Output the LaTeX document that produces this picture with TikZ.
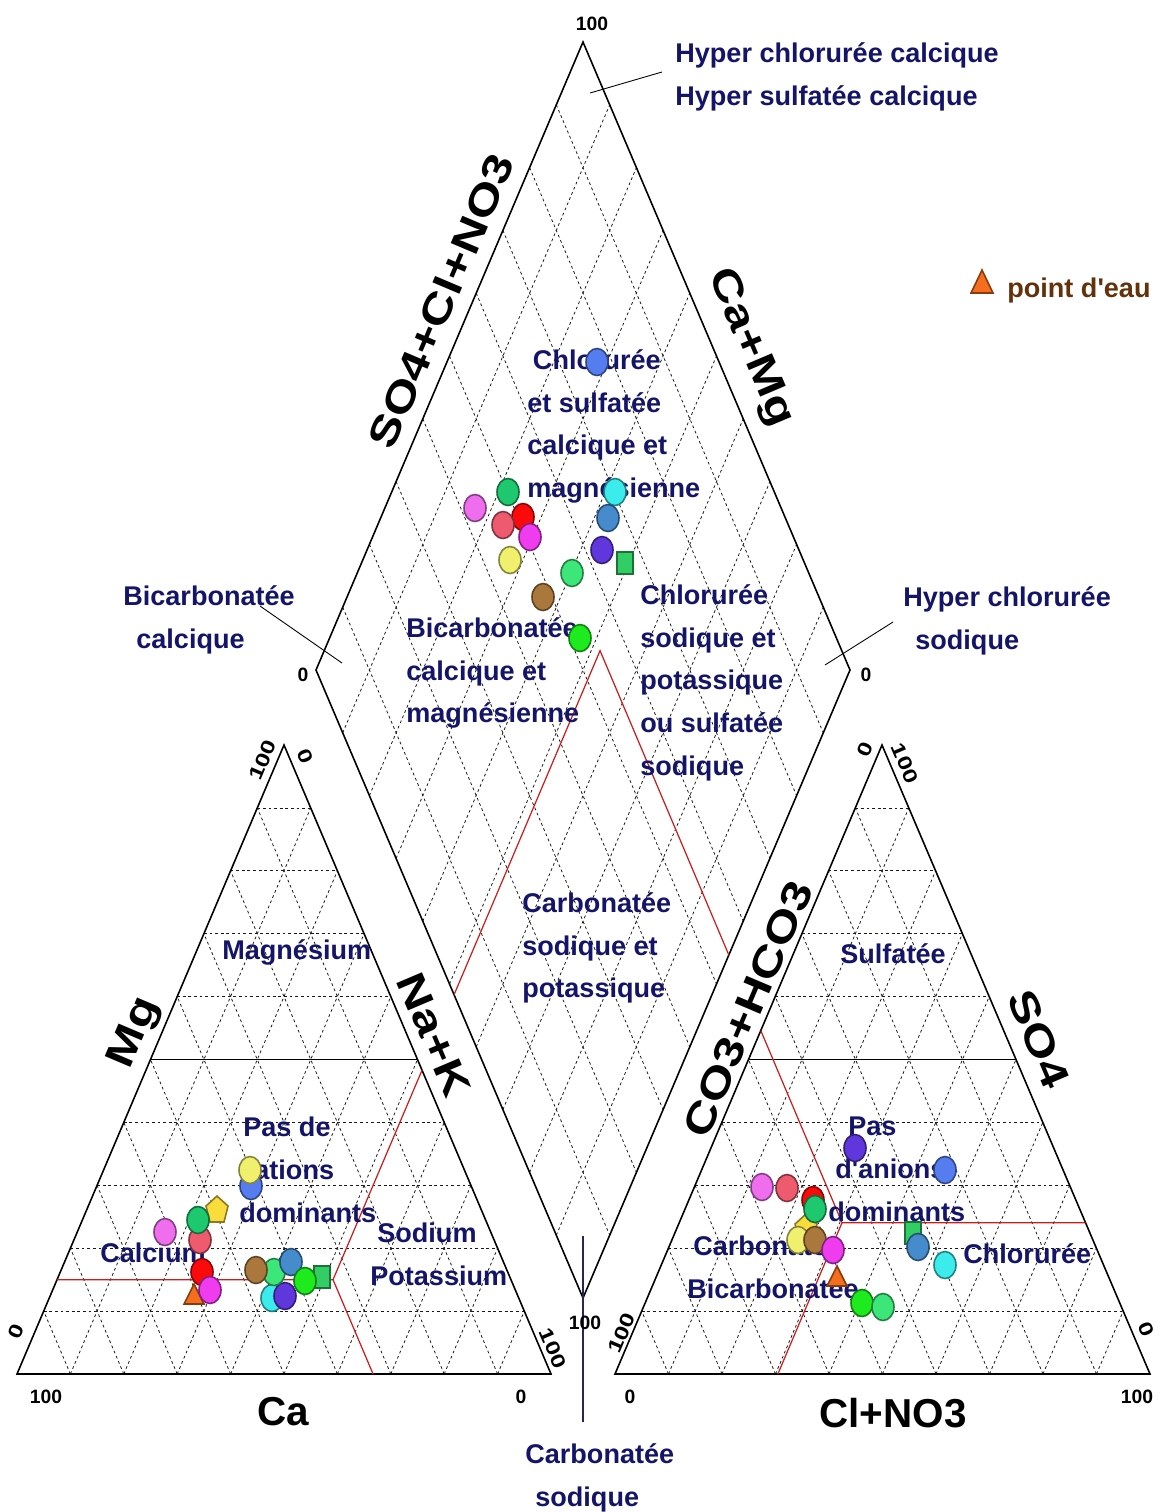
\documentclass[tikz,border=0pt]{standalone}
\usepackage{fontspec}
\setmainfont{Liberation Sans}
\usetikzlibrary{calc}

\definecolor{zonenavy}{RGB}{20,20,105}
\definecolor{legendbrown}{RGB}{100,50,10}
\definecolor{classred}{RGB}{200,30,30}
\definecolor{cviolet}{RGB}{238,110,238}
\definecolor{csalmon}{RGB}{238,90,110}
\definecolor{cred}{RGB}{250,10,10}
\definecolor{cmagenta}{RGB}{238,60,238}
\definecolor{cgreen}{RGB}{30,200,110}
\definecolor{cyellow}{RGB}{240,240,110}
\definecolor{cbrown}{RGB}{170,120,60}
\definecolor{clight}{RGB}{60,230,120}
\definecolor{clime}{RGB}{30,235,30}
\definecolor{csquare}{RGB}{50,205,100}
\definecolor{csteel}{RGB}{70,140,205}
\definecolor{ccyan}{RGB}{60,235,235}
\definecolor{cpurple}{RGB}{95,55,220}
\definecolor{croyal}{RGB}{85,125,240}
\definecolor{corange}{RGB}{245,110,30}
\definecolor{cpenta}{RGB}{250,220,60}

\newcommand\zonefont{\fontsize{15.4}{24.4}\selectfont\bfseries}
\newcommand\axfont{\fontsize{23}{27}\selectfont\bfseries}
\newcommand\tickfont{\fontsize{11}{13}\selectfont\bfseries}

\begin{document}
\begin{tikzpicture}[x=0.02cm, y=-0.02cm,
  gridline/.style={black!90, line width=0.45pt, dash pattern=on 1.6pt off 1.6pt},
  frame/.style={black, line width=0.9pt},
  half/.style={black, line width=0.6pt},
  classline/.style={classred, line width=0.7pt},
  zone/.style={text=zonenavy, font=\zonefont, align=left, anchor=north west, inner sep=0pt},
  axlabel/.style={font=\axfont, inner sep=0pt},
  ticklabel/.style={font=\tickfont, inner sep=0pt},
  leader/.style={black, line width=0.5pt},
  mk/.style={fill=#1, draw=#1!55!black, line width=0.9pt},
  dotr/.style={x radius=11, y radius=13.5}]
\useasboundingbox (0,0) rectangle (1163,1512);

% corners: cations, anions, diamond
\coordinate (A1) at (17,1374);
\coordinate (B1) at (551,1374);
\coordinate (C1) at (284,745);
\coordinate (A2) at (615,1374);
\coordinate (B2) at (1150,1374);
\coordinate (C2) at (882,745);
\coordinate (T) at (583,42);
\coordinate (L) at (316,670);
\coordinate (R) at (850,670);
\coordinate (Bt) at (583,1298);

% dashed grids
\foreach \a/\b/\c in {A1/B1/C1, A2/B2/C2}{
  \foreach \i in {1,...,9}{
    \draw[gridline] ($(\a)!\i/10!(\c)$) -- ($(\b)!\i/10!(\c)$);
    \draw[gridline] ($(\a)!\i/10!(\b)$) -- ($(\a)!\i/10!(\c)$);
    \draw[gridline] ($(\b)!\i/10!(\a)$) -- ($(\b)!\i/10!(\c)$);
  }
}
\foreach \i in {1,...,9}{
  \draw[gridline] ($(L)!\i/10!(T)$) -- ($(Bt)!\i/10!(R)$);
  \draw[gridline] ($(L)!\i/10!(Bt)$) -- ($(T)!\i/10!(R)$);
}

% frames
\draw[frame] (A1) -- (B1) -- (C1) -- cycle;
\draw[frame] (A2) -- (B2) -- (C2) -- cycle;
\draw[frame] (T) -- (R) -- (Bt) -- (L) -- cycle;
\draw[half] ($(A1)!.5!(C1)$) -- ($(B1)!.5!(C1)$);
\draw[half] ($(A2)!.5!(C2)$) -- ($(B2)!.5!(C2)$);

% red limits
\coordinate (rl1) at ($(A1)!.15!(C1)$);
\coordinate (P) at ($(rl1)+(276,0)$);
\coordinate (Pd) at ($(P)+(267,629)$);
\coordinate (Ap) at ($(P)+(267,-629)$);
\coordinate (Q) at ($(Ap)+(242,572)$);
\coordinate (Qd) at ($(Q)+(-267,629)$);
\coordinate (Qr) at ($(Q)+(300,0)$);
\draw[classline] (rl1) -- (P) -- (intersection of P--Pd and A1--B1);
\draw[classline] (P) -- (intersection of P--Ap and B1--C1);
\draw[classline] (intersection of P--Ap and L--Bt) -- (Ap) -- (intersection of Ap--Q and R--Bt);
\draw[classline] (intersection of Ap--Q and A2--C2) -- (Q) -- (intersection of Q--Qr and B2--C2);
\draw[classline] (Q) -- (intersection of Q--Qd and A2--B2);

% zone names
\node[zone] (HyperCa) at (675,42) {Hyper chlorurée calcique\\Hyper sulfatée calcique};
\node[zone] (ChloSulf) at (527,349) {\hspace*{8\pgflinewidth}Chlorurée\\et sulfatée\\calcique et\\magnésienne};
\node[zone] (BicaCa) at (123,585) {Bicarbonatée\\\hspace*{0.26cm}calcique};
\node[zone] (BicaCaMg) at (406,617) {Bicarbonatée\\calcique et\\magnésienne};
\node[zone] (ChloNa) at (640,584) {Chlorurée\\sodique et\\potassique\\ou sulfatée\\sodique};
\node[zone] (HyperNa) at (903,586) {Hyper chlorurée\\\hspace*{0.24cm}sodique};
\node[zone] (CarbNa) at (522,892) {Carbonatée\\sodique et\\potassique};
\node[zone] (Magn) at (222,939) {Magnésium};
\node[zone] (PasCat) at (239,1117) {\hspace*{0.08cm}Pas de\\cations\\dominants};
\node[zone] (Calc) at (100,1243) {Calcium};
\node[zone] (SodPot) at (370,1223) {\hspace*{0.14cm}Sodium\\Potassium};
\node[zone] (Sulf) at (840,943) {Sulfatée};
\node[zone] (PasAn) at (828,1117) {\hspace*{0.4cm}Pas\\\hspace*{0.14cm}d\textquotesingle anions\\dominants};
\node[zone] (Carb) at (687,1235) {\hspace*{0.12cm}Carbonatée\\Bicarbonatée};
\node[zone] (Chlo) at (963,1243) {Chlorurée};
\node[zone] (CarbSod) at (525,1443) {Carbonatée\\\hspace*{0.2cm}sodique};

% leaders
\coordinate (hcTip) at (590,93);
\coordinate (bcTip) at (342,663);
\coordinate (hnTip) at (825,665);
\coordinate (csTop) at (583,1236);
\draw[leader] (hcTip) -- ($(HyperCa.north west)+(-13,30)$);
\draw[leader] (bcTip) -- ($(BicaCa.north west)+(137,21)$);
\draw[leader] (hnTip) -- ($(HyperNa.north west)+(-10,36)$);
\draw[leader, black!70!blue!70!gray, line width=0.7pt] (csTop) -- ($(CarbSod.north west)+(58,-21)$);

% axis names
\node[axlabel, rotate=67, xscale=1.25] (axSO4Cl) at (441,301) {SO4+Cl+NO3};
\node[axlabel, rotate=-67, xscale=1.25] (axCaMg) at (750,348) {Ca+Mg};
\node[axlabel, rotate=67, xscale=1.25] (axMg) at (135,1033) {Mg};
\node[axlabel, rotate=-67, xscale=1.25] (axNaK) at (434,1035) {Na+K};
\node[axlabel, rotate=67, xscale=1.25] (axCO3) at (748,1009) {CO3+HCO3};
\node[axlabel, rotate=-67, xscale=1.25] (axSO4) at (1039,1039) {SO4};
\node[axlabel, anchor=base] (axCa) at (283,1425) {Ca};
\node[axlabel, anchor=base] (axCl) at (893,1427) {Cl+NO3};

% ticks
\node[ticklabel] (tA1) at (46,1397) {100};
\node[ticklabel] (tB1) at (521,1397) {0};
\node[ticklabel, rotate=67, xscale=1.3] (tMg0) at (16,1331) {0};
\node[ticklabel, rotate=67, xscale=1.3] (tMg100) at (263,760) {100};
\node[ticklabel, rotate=-67, xscale=1.3] (tNa0) at (305,756) {0};
\node[ticklabel, rotate=-67, xscale=1.3] (tNa100) at (553,1348) {100};
\node[ticklabel] (tA2) at (630,1397) {0};
\node[ticklabel] (tB2) at (1137,1397) {100};
\node[ticklabel, rotate=67, xscale=1.3] (tCO100) at (622,1333) {100};
\node[ticklabel, rotate=67, xscale=1.3] (tCO0) at (865,749) {0};
\node[ticklabel, rotate=-67, xscale=1.3] (tS100) at (905,763) {100};
\node[ticklabel, rotate=-67, xscale=1.3] (tS0) at (1146,1329) {0};
\node[ticklabel] (tT) at (592,24) {100};
\node[ticklabel] (tL) at (303,675) {0};
\node[ticklabel] (tR) at (866,675) {0};
\node[ticklabel] (tBt) at (585,1323) {100};

% legend
\draw[mk=corange] (982,270) -- (993,293) -- (971,293) -- cycle;
\node[text=legendbrown, font=\zonefont, anchor=base west, inner sep=0pt] (legend) at (1007,297) {point d\textquotesingle eau};

% samples, cations
\draw[mk=cviolet] (165,1232) circle[dotr];
\draw[mk=csalmon] (200,1240) circle[dotr];
\draw[mk=cpenta] (217,1196) -- (228,1206) -- (224,1222) -- (210,1222) -- (206,1206) -- cycle;
\draw[mk=cgreen] (198,1220) circle[dotr];
\draw[mk=croyal] (251,1186) circle[dotr];
\draw[mk=cyellow] (250,1170) circle[dotr];
\draw[mk=cred] (202,1272) circle[dotr];
\draw[mk=corange] (194,1284) -- (204,1304) -- (184,1304) -- cycle;
\draw[mk=cmagenta] (210,1290) circle[dotr];
\draw[mk=ccyan] (272,1298) circle[dotr];
\draw[mk=cpurple] (285,1296) circle[dotr];
\draw[mk=clight] (274,1272) circle[dotr];
\draw[mk=cbrown] (256,1270) circle[dotr];
\draw[mk=csteel] (291,1262) circle[dotr];
\draw[mk=csquare] (314,1266) rectangle (330,1288);
\draw[mk=clime] (305,1281) circle[dotr];

% samples, diamond
\draw[mk=cviolet] (475,508) circle[dotr];
\draw[mk=cred] (523,517) circle[dotr];
\draw[mk=csalmon] (503,525) circle[dotr];
\draw[mk=cgreen] (508,492) circle[dotr];
\draw[mk=cmagenta] (530,537) circle[dotr];
\draw[mk=cyellow] (510,560) circle[dotr];
\draw[mk=cbrown] (543,597) circle[dotr];
\draw[mk=clight] (572,573) circle[dotr];
\draw[mk=clime] (580,638) circle[dotr];
\draw[mk=croyal] (597,362) circle[dotr];
\draw[mk=ccyan] (615,492) circle[dotr];
\draw[mk=csteel] (608,518) circle[dotr];
\draw[mk=cpurple] (602,550) circle[dotr];
\draw[mk=csquare] (617,552) rectangle (633,574);

% samples, anions
\draw[mk=cviolet] (762,1187) circle[dotr];
\draw[mk=csalmon] (787,1188) circle[dotr];
\draw[mk=cred] (813,1200) circle[dotr];
\draw[mk=cpenta] (806,1214) -- (817,1224) -- (813,1240) -- (799,1240) -- (795,1224) -- cycle;
\draw[mk=cgreen] (815,1209) circle[dotr];
\draw[mk=cyellow] (798,1240) circle[dotr];
\draw[mk=cbrown] (815,1240) circle[dotr];
\draw[mk=cmagenta] (833,1250) circle[dotr];
\draw[mk=corange] (837,1266) -- (847,1286) -- (827,1286) -- cycle;
\draw[mk=cpurple] (855,1148) circle[dotr];
\draw[mk=croyal] (945,1170) circle[dotr];
\draw[mk=csquare] (905,1222) rectangle (921,1244);
\draw[mk=csteel] (918,1247) circle[dotr];
\draw[mk=ccyan] (945,1265) circle[dotr];
\draw[mk=clime] (862,1303) circle[dotr];
\draw[mk=clight] (883,1307) circle[dotr];
\end{tikzpicture}
\end{document}
